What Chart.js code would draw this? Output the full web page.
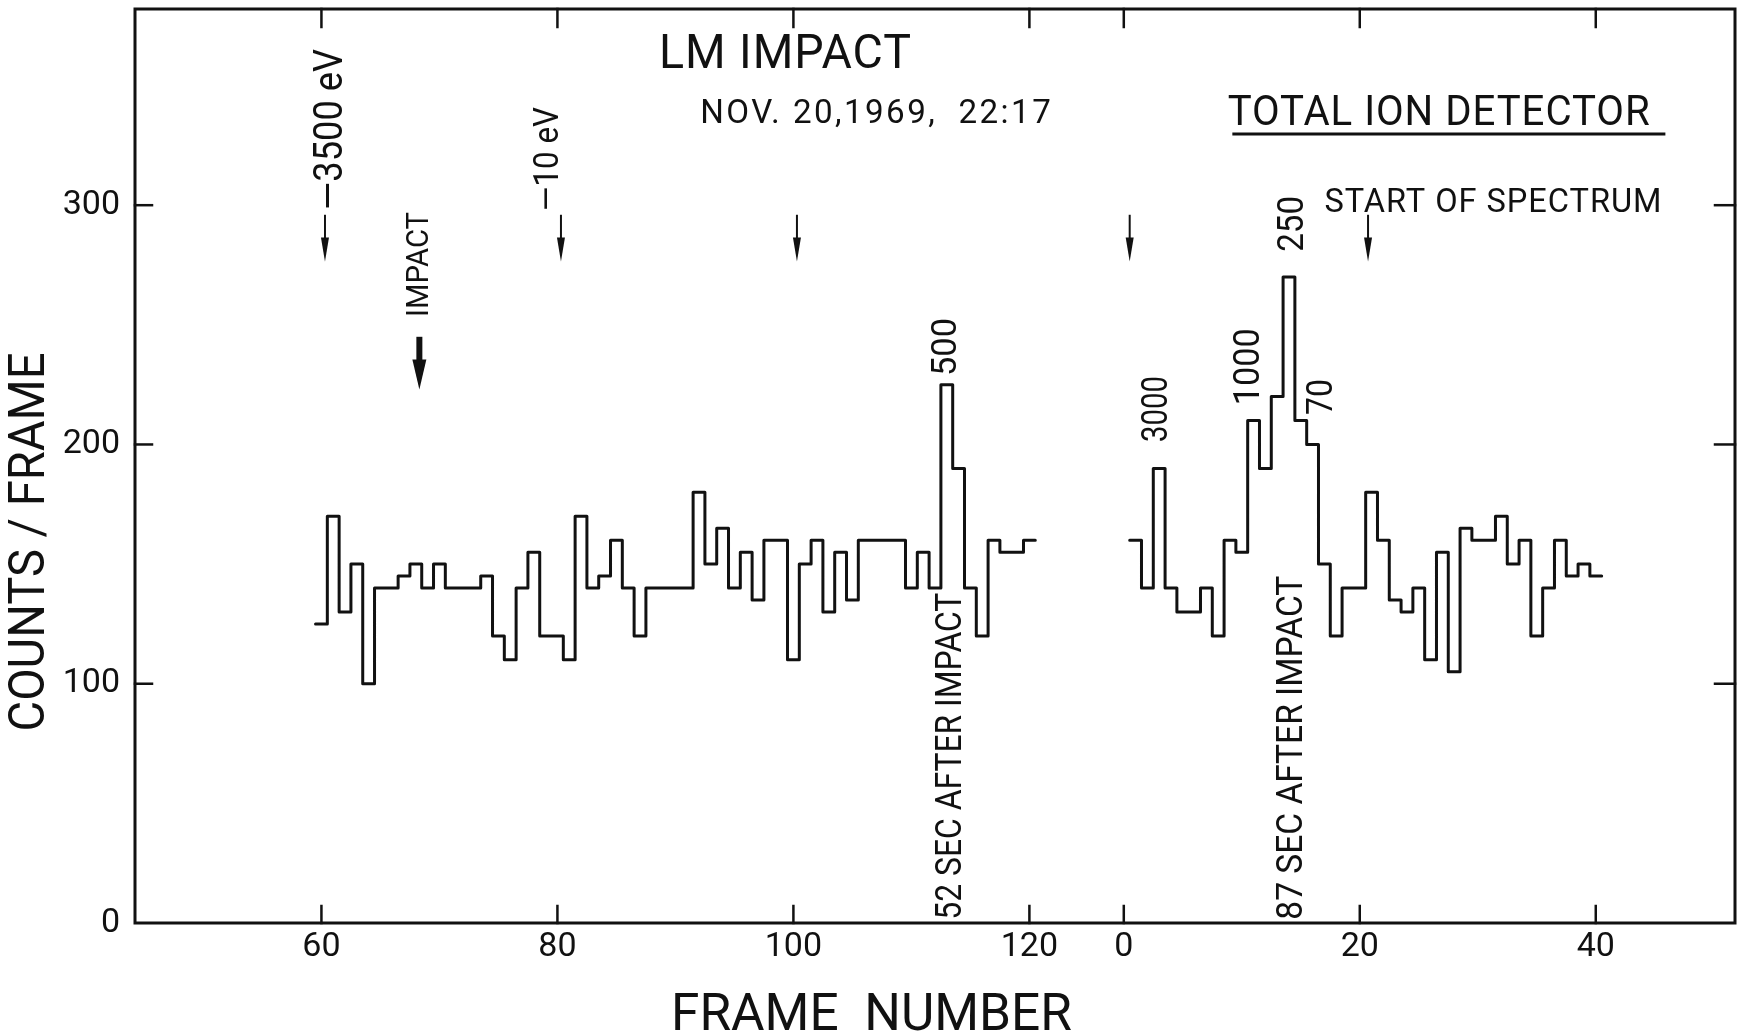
<!DOCTYPE html>
<html>
<head>
<meta charset="utf-8">
<title>LM Impact - Total Ion Detector</title>
<script src="https://cdn.jsdelivr.net/npm/chart.js@4.4.0/dist/chart.umd.min.js"></script>
<style>
    html, body { margin: 0; padding: 0; background: #fff; }
    #wrap { width: 1738px; height: 1036px; }
</style>
</head>
<body>
<div id="wrap"><canvas id="ionChart" width="1738" height="1036"></canvas></div>
<script>
// Primer tramo: cuadros 60 - 120
const framesA = [60, 61, 62, 63, 64, 65, 66, 67, 68, 69,
                 70, 71, 72, 73, 74, 75, 76, 77, 78, 79,
                 80, 81, 82, 83, 84, 85, 86, 87, 88, 89,
                 90, 91, 92, 93, 94, 95, 96, 97, 98, 99,
                 100, 101, 102, 103, 104, 105, 106, 107, 108, 109,
                 110, 111, 112, 113, 114, 115, 116, 117, 118, 119,
                 120];
const countsA = [125, 170, 130, 150, 100, 140, 140, 145, 150, 140,
                 150, 140, 140, 140, 145, 120, 110, 140, 155, 120,
                 120, 110, 170, 140, 145, 160, 140, 120, 140, 140,
                 140, 140, 180, 150, 165, 140, 155, 135, 160, 160,
                 110, 150, 160, 130, 155, 135, 160, 160, 160, 160,
                 140, 155, 140, 225, 190, 140, 120, 160, 155, 155,
                 160];

// Segundo tramo: la numeración vuelve a empezar
const framesB = [1, 2, 3, 4, 5, 6, 7, 8, 9, 10,
                 11, 12, 13, 14, 15, 16, 17, 18, 19, 20,
                 21, 22, 23, 24, 25, 26, 27, 28, 29, 30,
                 31, 32, 33, 34, 35, 36, 37, 38, 39, 40];
const countsB = [160, 140, 190, 140, 130, 130, 140, 120, 160, 155,
                 210, 190, 220, 270, 210, 200, 150, 120, 140, 140,
                 180, 160, 135, 130, 140, 110, 155, 105, 165, 160,
                 160, 170, 150, 160, 120, 140, 160, 145, 150, 145];

// Etiquetas de los ejes
const xTicksA = [60, 80, 100, 120];
const xTicksB = [0, 20, 40];
const yTicks = [0, 100, 200, 300];

// Desplazamiento del segundo tramo sobre el eje común
const gapOffset = 128;

// Flechas finas (posición en cuadros del eje común)
const arrowX = [60.3, 80.3, 100.3, 128.5, 148.7];
const impactArrowX = 68.3;

// Notas verticales
const vNotes = ['—3500 eV', '—10 eV', 'IMPACT', '500', '52 SEC AFTER IMPACT',
                '3000', '1000', '250', '70', '87 SEC AFTER IMPACT'];
const vNoteX = [60.9, 79.3, 68.4, 113.0, 113.4, 130.9, 138.7, 142.4, 144.9, 142.3];
const vNoteY = [298, 297.6, 253.3, 228.6, 1.4, 201, 216.4, 280.5, 212.3, 1.4];

// Notas horizontales
const hNotes = ['LM IMPACT', 'NOV. 20,1969,  22:17', 'TOTAL ION DETECTOR', 'START OF SPECTRUM'];
const hNoteX = [88.6, 92.1, 136.8, 145.0];
const hNoteY = [357.4, 334.4, 333.6, 297.2];

const ink = '#111';
const fontFamily = 'Roboto, "DejaVu Sans", sans-serif';

// Estilos de las notas (tamaño de letra, largo máximo en px, espaciado)
const vNoteStyle = [[41, 161], [35, 104], [31, 105], [35, 58], [36, 327],
                    [36, 66], [36, 77], [36, 56], [36, 36], [36, 344]];
const hNoteStyle = [[48, 253, 1], [34, 353, 2.5], [42, 423, 1], [34, 338, 1]];

// Construir los puntos del histograma (bordes de cada cuadro)
function stepPoints(frames, counts, offset) {
    const pts = frames.map((f, i) => ({ x: f + offset - 0.5, y: counts[i] }));
    const last = frames.length - 1;
    pts.push({ x: frames[last] + offset + 0.5, y: counts[last] });
    return pts;
}

const xTickPos = xTicksA.concat(xTicksB.map(f => f + gapOffset));

function drawArrow(ctx, px, top, tip, shaft, headW, headLen) {
    ctx.lineWidth = shaft;
    ctx.beginPath();
    ctx.moveTo(px, top);
    ctx.lineTo(px, tip - headLen + 2);
    ctx.stroke();
    ctx.beginPath();
    ctx.moveTo(px - headW / 2, tip - headLen);
    ctx.lineTo(px + headW / 2, tip - headLen);
    ctx.lineTo(px, tip);
    ctx.closePath();
    ctx.fill();
}

function tickLine(ctx, x1, y1, x2, y2) {
    ctx.beginPath();
    ctx.moveTo(x1, y1);
    ctx.lineTo(x2, y2);
    ctx.stroke();
}

// Marco, marcas interiores, flechas y textos
const frameNotes = {
    id: 'frameNotes',
    afterDraw(chart) {
        const { ctx, chartArea: a, scales: { x, y } } = chart;
        ctx.save();
        ctx.strokeStyle = ink;
        ctx.fillStyle = ink;
        ctx.lineCap = 'square';

        ctx.lineWidth = 3;
        ctx.strokeRect(a.left, a.top, a.right - a.left, a.bottom - a.top);

        ctx.lineWidth = 2.5;
        xTickPos.forEach(v => {
            const px = x.getPixelForValue(v);
            tickLine(ctx, px, a.bottom, px, a.bottom - 17);
            tickLine(ctx, px, a.top, px, a.top + 18);
        });
        yTicks.filter(v => v > 0).forEach(v => {
            const py = y.getPixelForValue(v);
            tickLine(ctx, a.left, py, a.left + 17, py);
            tickLine(ctx, a.right, py, a.right - 20, py);
        });

        ctx.lineCap = 'butt';
        arrowX.forEach(v => {
            drawArrow(ctx, x.getPixelForValue(v), y.getPixelForValue(296), y.getPixelForValue(276.5), 2, 8, 24);
        });
        drawArrow(ctx, x.getPixelForValue(impactArrowX), y.getPixelForValue(245), y.getPixelForValue(223), 6, 14, 30);

        // Textos verticales
        vNotes.forEach((t, i) => {
            const [size, len] = vNoteStyle[i];
            ctx.save();
            ctx.translate(x.getPixelForValue(vNoteX[i]), y.getPixelForValue(vNoteY[i]));
            ctx.rotate(-Math.PI / 2);
            ctx.font = size + 'px ' + fontFamily;
            ctx.textAlign = 'left';
            ctx.textBaseline = 'middle';
            ctx.fillText(t, 0, 0, len);
            ctx.restore();
        });

        // Textos horizontales
        ctx.textAlign = 'left';
        ctx.textBaseline = 'alphabetic';
        hNotes.forEach((t, i) => {
            const [size, len, spacing] = hNoteStyle[i];
            ctx.font = size + 'px ' + fontFamily;
            ctx.letterSpacing = spacing + 'px';
            ctx.fillText(t, x.getPixelForValue(hNoteX[i]), y.getPixelForValue(hNoteY[i]), len);
        });
        ctx.letterSpacing = '0px';

        // Subrayado de TOTAL ION DETECTOR
        ctx.lineWidth = 3;
        tickLine(ctx, x.getPixelForValue(137.2), y.getPixelForValue(329.8),
                 x.getPixelForValue(173.9), y.getPixelForValue(329.8));

        // Títulos de los ejes
        ctx.font = '52px ' + fontFamily;
        ctx.fillText('FRAME  NUMBER', 671, 1030, 401);

        ctx.save();
        ctx.translate(31, 542);
        ctx.rotate(-Math.PI / 2);
        ctx.font = '50px ' + fontFamily;
        ctx.textAlign = 'center';
        ctx.textBaseline = 'middle';
        ctx.fillText('COUNTS / FRAME', 0, 0, 379);
        ctx.restore();

        ctx.restore();
    }
};

const lineStyle = {
    borderColor: ink,
    borderWidth: 3,
    pointRadius: 0,
    stepped: true,
    fill: false,
    borderJoinStyle: 'round',
    borderCapStyle: 'round'
};

const ctx = document.getElementById('ionChart').getContext('2d');

const ionChart = new Chart(ctx, {
    type: 'line',
    data: {
        datasets: [
            Object.assign({ label: 'Frames 60-120', data: stepPoints(framesA, countsA, 0) }, lineStyle),
            Object.assign({ label: 'Frames 0-40', data: stepPoints(framesB, countsB, gapOffset) }, lineStyle)
        ]
    },
    options: {
        responsive: false,
        animation: false,
        devicePixelRatio: 1,
        layout: { autoPadding: false, padding: { top: 9, right: 3, left: 0, bottom: 0 } },
        plugins: {
            legend: { display: false },
            tooltip: { enabled: false }
        },
        scales: {
            x: {
                type: 'linear',
                min: 44.2,
                max: 179.8,
                afterBuildTicks: scale => { scale.ticks = xTickPos.map(v => ({ value: v })); },
                afterFit: scale => {
                    scale.height = 113;
                    scale.paddingLeft = 0;
                    scale.paddingRight = 0;
                },
                grid: { display: false, drawTicks: false },
                border: { display: false },
                ticks: {
                    autoSkip: false,
                    maxRotation: 0,
                    padding: 4,
                    color: ink,
                    font: { family: fontFamily, size: 34 },
                    callback: function(value) {
                        return value >= gapOffset ? String(value - gapOffset) : String(value);
                    }
                }
            },
            y: {
                type: 'linear',
                min: 0,
                max: 382,
                afterBuildTicks: scale => { scale.ticks = yTicks.map(v => ({ value: v })); },
                afterFit: scale => {
                    scale.width = 135;
                    scale.paddingTop = 0;
                    scale.paddingBottom = 0;
                },
                grid: { display: false, drawTicks: false },
                border: { display: false },
                ticks: {
                    padding: 15,
                    color: ink,
                    font: { family: fontFamily, size: 34 }
                }
            }
        }
    },
    plugins: [frameNotes]
});
</script>
</body>
</html>
